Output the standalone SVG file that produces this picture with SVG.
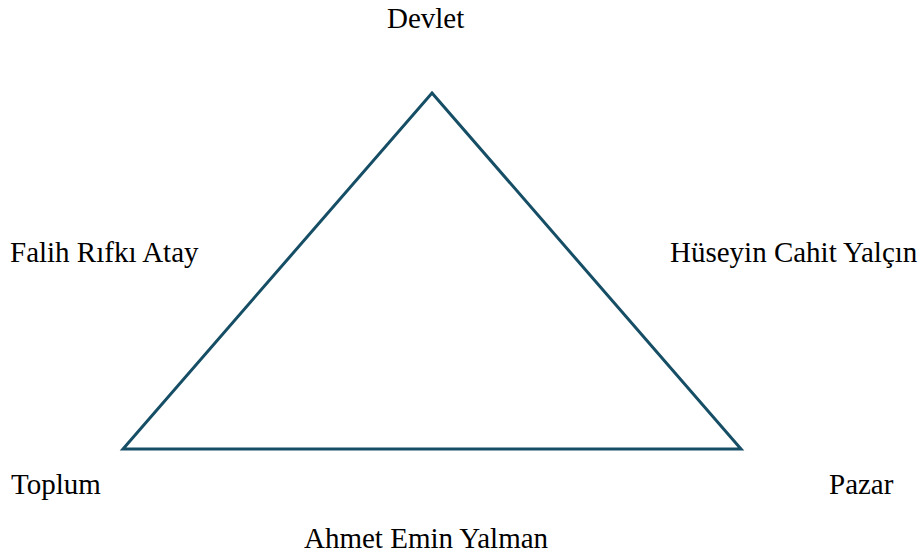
<svg xmlns="http://www.w3.org/2000/svg" width="924" height="557" viewBox="0 0 924 557">
<style>
.edge{fill:none;stroke:#164e66;stroke-width:3;stroke-linejoin:miter}
</style>
<rect width="924" height="557" fill="#fff"/>
<g id="connectors">
<polygon class="edge" points="432,93 741,449 123,449"/>
</g>
<g font-family="'Liberation Serif', 'Times New Roman', serif" font-size="29" fill="#000">
<g id="devlet"><text x="387" y="28">Devlet</text></g>
<g id="falih"><text x="10" y="262">Falih Rıfkı Atay</text></g>
<g id="huseyin"><text x="670" y="262">Hüseyin Cahit Yalçın</text></g>
<g id="toplum"><text x="11" y="494">Toplum</text></g>
<g id="pazar"><text x="829" y="494">Pazar</text></g>
<g id="ahmet"><text x="304" y="548">Ahmet Emin Yalman</text></g>
</g>
</svg>
